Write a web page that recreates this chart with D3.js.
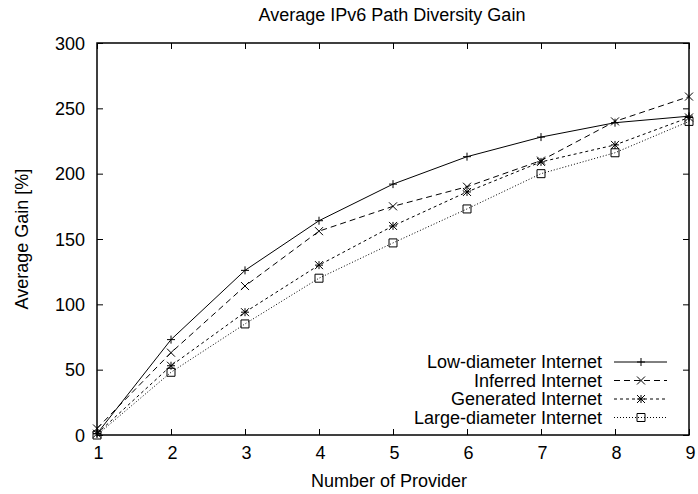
<!DOCTYPE html>
<html><head><meta charset="utf-8">
<script src="https://cdn.jsdelivr.net/npm/d3@7"></script>
<style>body{margin:0;background:#fff}svg{display:block}text{font-family:"Liberation Sans",Arial,sans-serif;fill:#000}</style>
</head><body><div id="c"></div>
<script>
const providers = [1,2,3,4,5,6,7,8,9];
const lowDiameter = [1,73,126,164,192,213,228,239,244];
const inferred = [5,63,114,156,175,190,210,240,259];
const generated = [1,53,94,130,160,186,209,222,243];
const largeDiameter = [0,48,85,120,147,173,200,216,240];
const seriesNames = ["Low-diameter Internet","Inferred Internet","Generated Internet","Large-diameter Internet"];
const yTicks = [0,50,100,150,200,250,300];
const xTicks = [1,2,3,4,5,6,7,8,9];

const W=698,H=494;
const m={l:97,r:8,t:43,b:59};
const FS=18;
const svg=d3.select("#c").append("svg").attr("width",W).attr("height",H);
const x=d3.scaleLinear().domain([1,9]).range([m.l,W-m.r-1]);
const y=d3.scaleLinear().domain([0,300]).range([H-m.b,m.t]);

const series=[
 {name:seriesNames[0],vals:lowDiameter,dash:null,sym:"plus"},
 {name:seriesNames[1],vals:inferred,dash:"6,4",sym:"cross"},
 {name:seriesNames[2],vals:generated,dash:"3,3",sym:"star"},
 {name:seriesNames[3],vals:largeDiameter,dash:"1,2",sym:"box"}
];

const tl=6;
const gB=svg.append("g").attr("transform",`translate(0,${y(0)})`).call(d3.axisBottom(x).tickValues(xTicks).tickSizeInner(-tl).tickSizeOuter(0).tickPadding(0).tickFormat(d3.format("d")));
const gT=svg.append("g").attr("transform",`translate(0,${y(300)})`).call(d3.axisTop(x).tickValues(xTicks).tickSizeInner(-tl).tickSizeOuter(0).tickFormat(""));
const gL=svg.append("g").attr("transform",`translate(${x(1)},0)`).call(d3.axisLeft(y).tickValues(yTicks).tickSizeInner(-tl).tickSizeOuter(0).tickPadding(12).tickFormat(d3.format("d")));
const gR=svg.append("g").attr("transform",`translate(${x(9)},0)`).call(d3.axisRight(y).tickValues(yTicks).tickSizeInner(-tl).tickSizeOuter(0).tickFormat(""));
[gB,gT,gL,gR].forEach(g=>{g.select(".domain").remove();g.selectAll("line").attr("stroke","#000").attr("stroke-width",1);g.selectAll("text").attr("font-size",FS).attr("font-family","Liberation Sans, Arial, sans-serif");});
gB.selectAll("text").attr("y",24).attr("dy",null).attr("x",1);
gL.selectAll("text").attr("dy","0.35em");
svg.append("rect").attr("x",x(1)).attr("y",y(300)).attr("width",x(9)-x(1)).attr("height",y(0)-y(300)).attr("fill","none").attr("stroke","#000").attr("stroke-width",1.5);

function symbol(g,type,cx,cy){
  const s=4;
  const p=g.append("path").attr("fill","none").attr("stroke","#000").attr("stroke-width",1);
  let d="";
  if(type==="plus") d=`M${cx-s},${cy}H${cx+s}M${cx},${cy-s}V${cy+s}`;
  else if(type==="cross") d=`M${cx-s},${cy-s}L${cx+s},${cy+s}M${cx-s},${cy+s}L${cx+s},${cy-s}`;
  else if(type==="star") d=`M${cx-s},${cy}H${cx+s}M${cx},${cy-s}V${cy+s}M${cx-s},${cy-s}L${cx+s},${cy+s}M${cx-s},${cy+s}L${cx+s},${cy-s}`;
  else d=`M${cx-s},${cy-s}H${cx+s}V${cy+s}H${cx-s}Z`;
  p.attr("d",d);
}

const line=d3.line().x((d,i)=>x(providers[i])).y(d=>y(d));
series.forEach(s=>{
  const g=svg.append("g");
  g.append("path").attr("d",line(s.vals)).attr("fill","none").attr("stroke","#000").attr("stroke-width",1).attr("stroke-dasharray",s.dash);
  s.vals.forEach((v,i)=>symbol(g,s.sym,x(providers[i]),y(v)));
});

const lg=svg.append("g");
series.forEach((s,i)=>{
  const ly=362+i*18.5;
  lg.append("text").attr("x",602).attr("y",ly).attr("dy","0.35em").attr("text-anchor","end").attr("font-size",FS).text(s.name);
  lg.append("line").attr("x1",614).attr("x2",667).attr("y1",ly).attr("y2",ly).attr("stroke","#000").attr("stroke-width",1).attr("stroke-dasharray",s.dash);
  symbol(lg,s.sym,641,ly);
});

svg.append("text").attr("x",392).attr("y",21).attr("text-anchor","middle").attr("font-size",FS).text("Average IPv6 Path Diversity Gain");
svg.append("text").attr("x",389).attr("y",487).attr("text-anchor","middle").attr("font-size",FS).text("Number of Provider");
svg.append("text").attr("transform","translate(28,239) rotate(-90)").attr("text-anchor","middle").attr("font-size",FS).text("Average Gain [%]");
</script></body></html>
